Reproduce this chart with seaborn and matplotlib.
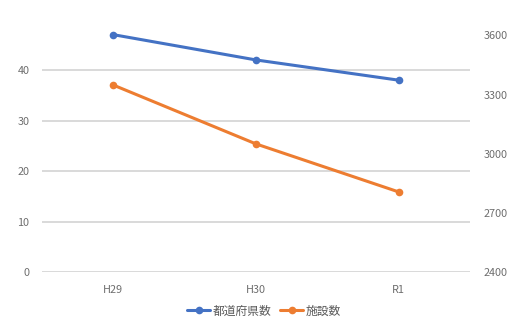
import matplotlib
matplotlib.use("Agg")
import matplotlib.pyplot as plt
import seaborn as sns
import pandas as pd

# Survey years and the two series plotted on twin axes
years = ["H29", "H30", "R1"]
prefectures = [47, 42, 38]        # 都道府県数 (left axis)
facilities = [3348, 3050, 2807]   # 施設数 (right axis)

left_ticks = [0, 10, 20, 30, 40]
right_ticks = [2400, 2700, 3000, 3300, 3600]

sns.set_theme(style="white")
plt.rcParams["font.family"] = ["Noto Sans CJK JP", "DejaVu Sans"]

BLUE = "#4472C4"
ORANGE = "#ED7D31"
TEXT = "#6E6E6E"
GRID = "#D0D0D0"

df = pd.DataFrame({"year": years, "pref": prefectures, "fac": facilities})
df["x"] = range(len(years))

fig = plt.figure(figsize=(5.09, 3.20), dpi=100)
ax = fig.add_axes([42 / 509, (320 - 272.3) / 320, (470 - 42) / 509, (272.3 - 19.5) / 320])
ax2 = ax.twinx()

sns.lineplot(data=df, x="x", y="pref", ax=ax, color=BLUE, linewidth=2.2,
             marker="o", markersize=5.5, markeredgewidth=0, label="都道府県数", legend=False)
sns.lineplot(data=df, x="x", y="fac", ax=ax2, color=ORANGE, linewidth=2.2,
             marker="o", markersize=5.5, markeredgewidth=0, label="施設数", legend=False)

ax.set_xlim(-0.5, len(years) - 0.5)
ax.set_ylim(0, 50)
ax2.set_ylim(2400, 3680)

ax.set_xticks(range(len(years)))
ax.set_xticklabels(years)
ax.set_yticks(left_ticks)
ax2.set_yticks(right_ticks)

for a in (ax, ax2):
    for s in a.spines.values():
        s.set_visible(False)
    a.set_xlabel("")
    a.set_ylabel("")
    a.tick_params(axis="both", length=0, labelsize=7.8, labelcolor=TEXT, pad=9)

ax.yaxis.grid(True, color=GRID, linewidth=1.1)
ax.set_axisbelow(True)
ax2.tick_params(axis="y", pad=10)

handles = ax.get_lines()[:1] + ax2.get_lines()[:1]
fig.legend(handles, ["都道府県数", "施設数"], loc="center", bbox_to_anchor=(264 / 509, 1 - 311 / 320),
           ncol=2, frameon=False, fontsize=8.5, labelcolor="#595959", handlelength=1.9,
           handletextpad=0.2, columnspacing=0.8)

fig.savefig("out.png", dpi=100)
